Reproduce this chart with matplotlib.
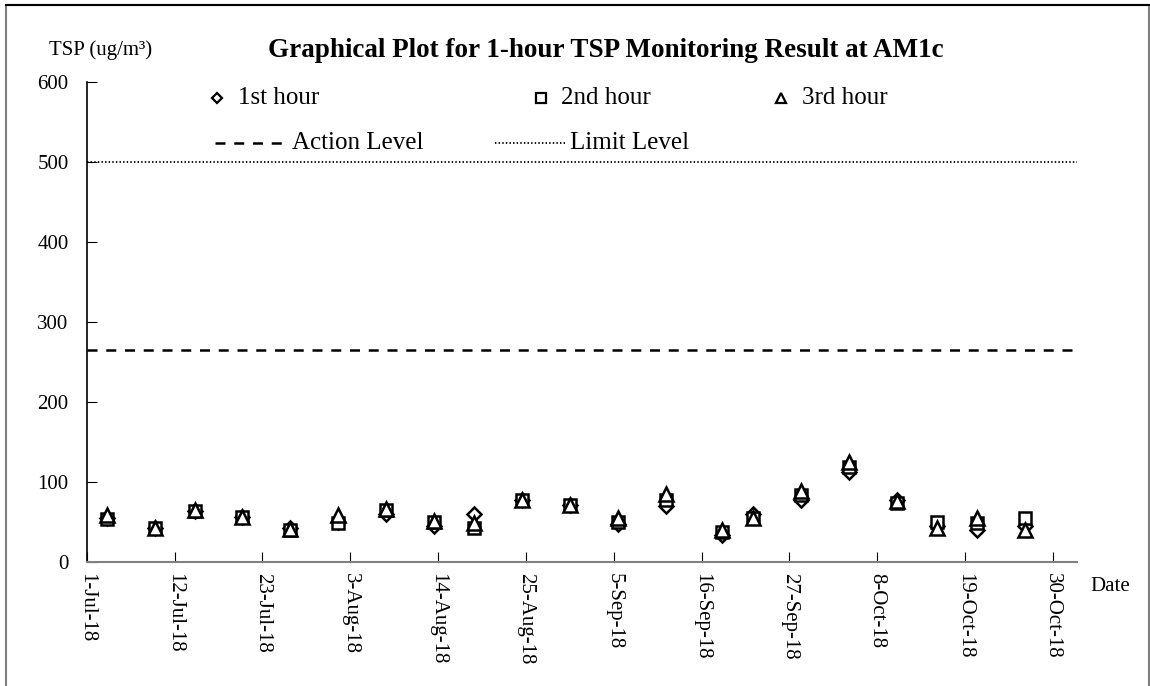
import datetime as dt
import matplotlib
matplotlib.use("Agg")
import matplotlib.pyplot as plt
import matplotlib.dates as mdates
from matplotlib.lines import Line2D
from matplotlib.patches import Rectangle

plt.rcParams['font.family'] = ['Liberation Serif', 'DejaVu Serif']

# sampling dates and 1-hour TSP results (ug/m3)
dates = ["2018-07-03", "2018-07-09", "2018-07-14", "2018-07-20", "2018-07-26",
         "2018-08-01", "2018-08-07", "2018-08-13", "2018-08-18", "2018-08-24",
         "2018-08-30", "2018-09-05", "2018-09-11", "2018-09-18", "2018-09-22",
         "2018-09-28", "2018-10-04", "2018-10-10", "2018-10-15", "2018-10-20",
         "2018-10-26"]
hour1 = [55, 43, 64, 57, 43, 50, 61, 45, 61, 78, 72, 48, 70, 34, 61, 78, 113, 78, 46, 41, 46]
hour2 = [54, 43, 64, 57, 40, 49, 65, 50, 43, 78, 72, 51, 78, 38, 56, 84, 119, 74, 51, 49, 55]
hour3 = [59, 43, 66, 57, 42, 59, 67, 52, 49, 78, 72, 56, 86, 40, 55, 89, 125, 77, 43, 55, 40]
action_level = 265
limit_level = 500

x_start = dt.datetime(2018, 7, 1)
x_end = dt.datetime(2018, 11, 2)

# Excel date axis plots each day in the middle of its slot
xs = [dt.datetime.strptime(d, "%Y-%m-%d") + dt.timedelta(hours=12) for d in dates]

fig = plt.figure(figsize=(11.5, 6.86), dpi=100)
ax = fig.add_axes([0.0754, 0.1803, 0.861, 0.6997])

mk = dict(linestyle='none', markerfacecolor='white', markeredgecolor='black',
          markeredgewidth=1.8)
ax.plot(xs, hour1, marker='D', markersize=7.5, **mk)
ax.plot(xs, hour2, marker='s', markersize=9, **mk)
ax.plot(xs, hour3, marker='^', markersize=9.5, **mk)

ax.axhline(action_level, color='black', lw=1.8, dashes=(4, 3.5))
ax.axhline(limit_level, color='black', lw=1.3, linestyle=(0, (0.8, 1.2)))

ax.set_xlim(x_start, x_end)
ax.set_ylim(0, 600)
ax.set_yticks(range(0, 601, 100))
ticks = [x_start + dt.timedelta(days=11 * i) for i in range(12)]
ax.set_xticks(ticks)
ax.xaxis.set_major_formatter(mdates.DateFormatter('%-d-%b-%y'))
ax.tick_params(axis='x', direction='in', length=7, rotation=-90, labelsize=15, pad=8)
ax.tick_params(axis='y', direction='in', length=7, labelsize=15, pad=13)
for lab in ax.get_xticklabels():
    lab.set_verticalalignment('top')
    lab.set_horizontalalignment('center')

ax.spines['top'].set_visible(False)
ax.spines['right'].set_visible(False)
ax.spines['bottom'].set_color('#808080')
ax.spines['bottom'].set_linewidth(1.5)
ax.spines['left'].set_linewidth(1.2)

fig.text(0.527, 0.927, 'Graphical Plot for 1-hour TSP Monitoring Result at AM1c',
         ha='center', va='center', fontsize=19.5, fontweight='bold')
fig.text(0.043, 0.927, 'TSP (ug/m³)', ha='left', va='center', fontsize=15)
fig.text(0.948, 0.145, 'Date', ha='left', va='center', fontsize=15)

# legend drawn by hand to follow the original layout
legend_rows = [
    (0.189, 0.857, dict(marker='D', markersize=5.5), '1st hour'),
    (0.470, 0.857, dict(marker='s', markersize=7), '2nd hour'),
    (0.679, 0.857, dict(marker='^', markersize=7), '3rd hour'),
]
for x, y, m, label in legend_rows:
    fig.add_artist(Line2D([x], [y], transform=fig.transFigure, linestyle='none',
                          markerfacecolor='white', markeredgecolor='black',
                          markeredgewidth=1.6, **m))
    fig.text(x + 0.018, y, label, ha='left', va='center', fontsize=18)

fig.add_artist(Line2D([0.187, 0.249], [0.792, 0.792], transform=fig.transFigure,
                      color='black', lw=1.8, dashes=(4, 3.5)))
fig.text(0.254, 0.792, 'Action Level', ha='left', va='center', fontsize=18)
fig.add_artist(Line2D([0.430, 0.491], [0.792, 0.792], transform=fig.transFigure,
                      color='black', lw=1.3, linestyle=(0, (0.8, 1.2))))
fig.text(0.496, 0.792, 'Limit Level', ha='left', va='center', fontsize=18)

# outer chart frame
fig.add_artist(Rectangle((0.005, -0.1), 0.994, 1.093, transform=fig.transFigure,
                         fill=False, edgecolor='#808080', lw=1.5))
fig.add_artist(Line2D([0.005, 0.999], [0.993, 0.993], transform=fig.transFigure,
                      color='black', lw=1.5))

fig.savefig('out.png', dpi=100)
